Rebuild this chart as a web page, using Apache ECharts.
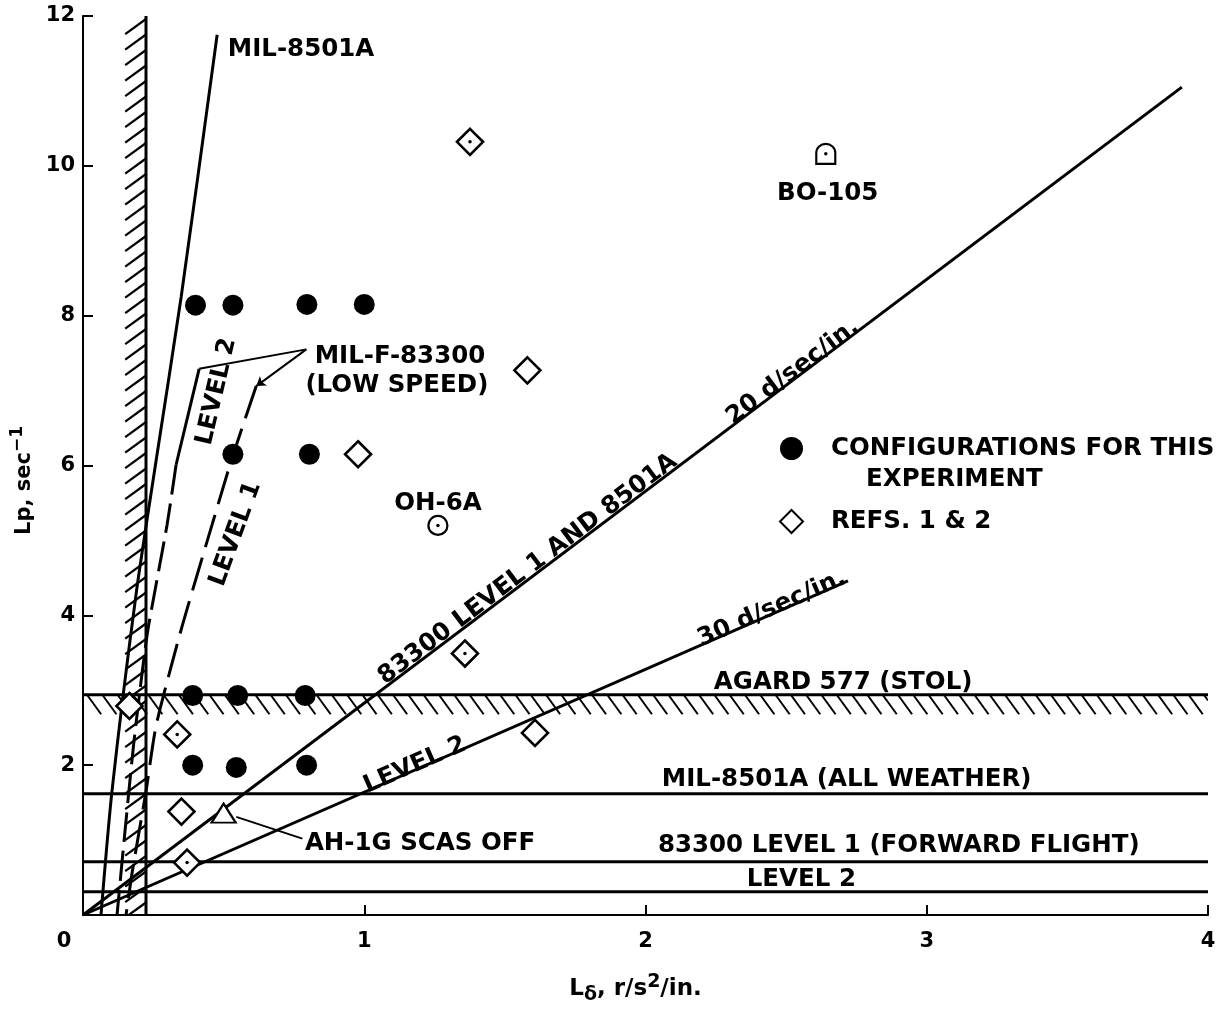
<!DOCTYPE html>
<html><head><meta charset="utf-8">
<script src="https://cdn.jsdelivr.net/npm/echarts@6/dist/echarts.min.js"></script>
<style>html,body{margin:0;padding:0;background:#fff}#c{width:1231px;height:1010px}</style>
</head><body><div id="c"></div>
<script>
// ---------- data ----------
const xTicks = [0, 1, 2, 3, 4];
const yTicks = [0, 2, 4, 6, 8, 10, 12];

const thisExperiment = [[0.40,8.14],[0.533,8.14],[0.796,8.15],[1.0,8.15],
  [0.533,6.15],[0.805,6.15],[0.39,2.93],[0.55,2.93],[0.79,2.93],[0.39,2.0],[0.545,1.97],[0.795,2.0]];
const refs12 = [[1.376,10.32],[1.58,7.27],[0.978,6.15],[1.358,3.49],[1.607,2.43],
  [0.335,2.41],[0.35,1.38],[0.37,0.70],[0.165,2.79]];
const refsWithDot = [[1.376,10.32],[1.358,3.49],[0.335,2.41],[0.37,0.70]];
const oh6a = [[1.262,5.20]];
const bo105 = [[2.641,10.16]];
const ah1g = [[0.50,1.36]];

const agardLp = 2.94, agardHatchLp = 2.68;
const allWeatherLp = 1.62, fwdLevel1Lp = 0.71, fwdLevel2Lp = 0.31;
const vertLimitLd = 0.224, vertHatchLd = 0.15;

const diag20 = [[0,0],[3.907,11.05]];
const diag30 = [[0,0],[2.72,4.46]];
const mil8501A = [[0.064,0],[0.103,1.65],[0.189,4.29],[0.263,6.14],[0.349,8.25],[0.477,11.75]];
const lowSpeedLevel2 = [[0.413,7.29],[0.331,6.01],[0.299,5.21],[0.228,3.74],[0.181,2.31],[0.146,0.99],[0.121,0]];
const lowSpeedLevel1 = [[0.616,7.06],[0.530,6.10],[0.459,5.21],[0.352,3.85],[0.260,2.53],[0.224,1.65],[0.174,0.55],[0.153,0]];

const calloutLabel = [0.794,7.55];
const ah1gLeader = [[0.545,1.31],[0.78,1.02]];

// ---------- annotations (data-space anchors) ----------
const annotations = [
  {t:'MIL-8501A', x:0.515, y:11.62, align:'left'},
  {t:'MIL-F-83300', x:1.127, y:7.52},
  {t:'(LOW SPEED)', x:1.116, y:7.13},
  {t:'LEVEL 2', x:0.458, y:7.0, rot:77},
  {t:'LEVEL 1', x:0.526, y:5.11, rot:70},
  {t:'OH-6A', x:1.262, y:5.56},
  {t:'BO-105', x:2.648, y:9.69},
  {t:'20 d/sec/in.', x:2.513, y:7.30, along:diag20},
  {t:'83300 LEVEL 1 AND 8501A', x:1.571, y:4.67, along:diag20},
  {t:'30 d/sec/in.', x:2.442, y:4.15, along:diag30},
  {t:'LEVEL 2', x:1.173, y:2.06, along:diag30},
  {t:'AGARD 577 (STOL)', x:2.243, y:3.17, align:'left'},
  {t:'MIL-8501A (ALL WEATHER)', x:2.058, y:1.875, align:'left'},
  {t:'83300 LEVEL 1 (FORWARD FLIGHT)', x:2.044, y:0.99, align:'left'},
  {t:'LEVEL 2', x:2.36, y:0.54, align:'left'},
  {t:'AH-1G SCAS OFF', x:0.789, y:1.02, align:'left'}
];

const FONT = '"DejaVu Sans", Verdana, sans-serif';
const FS = 24.5;
const S1 = 'CONFIGURATIONS FOR THIS EXPERIMENT';
const S2 = 'REFS. 1 & 2';

function lineSeries(data, extra) {
  return Object.assign({
    type: 'line', data: data, showSymbol: false, symbol: 'none', silent: true,
    lineStyle: {color: '#000', width: 3}, z: 3, animation: false
  }, extra || {});
}

const chart = echarts.init(document.getElementById('c'), null, {renderer: 'canvas'});

const option = {
  backgroundColor: '#fff',
  animation: false,
  grid: {left: 83, right: 23, top: 16, bottom: 85, containLabel: false},
  xAxis: {
    type: 'value', min: xTicks[0], max: xTicks[xTicks.length-1], interval: 1,
    splitLine: {show: false},
    axisLine: {lineStyle: {color: '#000', width: 2}},
    axisTick: {inside: true, length: 10, lineStyle: {color: '#000', width: 2}},
    axisLabel: {
      margin: 16, color: '#000', fontFamily: FONT, fontWeight: 'bold', fontSize: 21,
      formatter: v => v === 0 ? '{z|0}' : String(v),
      rich: {z: {fontFamily: FONT, fontWeight: 'bold', fontSize: 21, color: '#000', padding: [0, 38, 0, 0]}}
    },
    name: '{a|L}{s|δ}{a|, r/s}{p|2}{a|/in.}',
    nameLocation: 'middle', nameGap: 58,
    nameTextStyle: {
      padding: [0, 20, 0, 0],
      rich: {
        a: {fontFamily: FONT, fontWeight: 'bold', fontSize: 23, color: '#000'},
        s: {fontFamily: FONT, fontWeight: 'bold', fontSize: 19, color: '#000', padding: [12, 0, 0, 0]},
        p: {fontFamily: FONT, fontWeight: 'bold', fontSize: 19, color: '#000', padding: [0, 0, 14, 0]}
      }
    }
  },
  yAxis: {
    type: 'value', min: yTicks[0], max: yTicks[yTicks.length-1], interval: 2,
    splitLine: {show: false},
    axisLine: {lineStyle: {color: '#000', width: 2}},
    axisTick: {inside: true, length: 10, lineStyle: {color: '#000', width: 2}},
    axisLabel: {
      margin: 8, color: '#000', fontFamily: FONT, fontWeight: 'bold', fontSize: 21,
      formatter: v => v === 0 ? '' : String(v)
    },
    name: '{a|Lp, sec}{p|−1}',
    nameLocation: 'middle', nameGap: 22, nameRotate: 90,
    nameTextStyle: {
      padding: [0, 30, 0, 0],
      rich: {
        a: {fontFamily: FONT, fontWeight: 'bold', fontSize: 21, color: '#000'},
        p: {fontFamily: FONT, fontWeight: 'bold', fontSize: 17, color: '#000', padding: [0, 0, 14, 0]}
      }
    }
  },
  legend: {
    orient: 'vertical', left: 779, top: 405, padding: 0, itemGap: 17,
    itemWidth: 23, itemHeight: 23, selectedMode: false,
    data: [S1, S2],
    formatter: name => name === S1
      ? '{t| }\n{t|CONFIGURATIONS FOR THIS}\n{i|EXPERIMENT}'
      : '{t|REFS. 1 & 2}',
    textStyle: {
      rich: {
        t: {fontFamily: FONT, fontWeight: 'bold', fontSize: FS, color: '#000', lineHeight: 31, padding: [0, 0, 0, 23]},
        i: {fontFamily: FONT, fontWeight: 'bold', fontSize: FS, color: '#000', lineHeight: 31, padding: [0, 0, 0, 58]}
      }
    }
  },
  series: [
    // vertical hatched limit
    {
      type: 'custom', silent: true, z: 2, clip: true,
      data: [[vertHatchLd, vertLimitLd, yTicks[0], yTicks[yTicks.length-1]]],
      renderItem: (params, api) => {
        const xl = api.coord([api.value(0), 0])[0], xr = api.coord([api.value(1), 0])[0];
        const yb = api.coord([0, api.value(2)])[1], yt = api.coord([0, api.value(3)])[1];
        const tg = Math.tan(36 * Math.PI / 180);
        const drop = (xr - xl) * tg;
        const ch = [];
        for (let y = yt + 3; y < yb; y += 15.5) {
          let x2 = xl, y2 = y + drop;
          if (y2 > yb) { y2 = yb; x2 = xr - (yb - y) / tg; }
          ch.push({type: 'line', shape: {x1: xr, y1: y, x2: x2, y2: y2}, style: {stroke: '#000', lineWidth: 2.2}});
        }
        return {type: 'group', children: ch};
      }
    },
    // horizontal hatched AGARD band
    {
      type: 'custom', silent: true, z: 2, clip: true,
      data: [[xTicks[0], xTicks[xTicks.length-1], agardHatchLp, agardLp]],
      renderItem: (params, api) => {
        const xl = api.coord([api.value(0), 0])[0], xr = api.coord([api.value(1), 0])[0];
        const yb = api.coord([0, api.value(2)])[1], yt = api.coord([0, api.value(3)])[1];
        const tg = Math.tan(54 * Math.PI / 180);
        const run = (yb - yt) / tg;
        const ch = [];
        for (let x = xl + 4; x < xr; x += 15.3) {
          let x2 = x + run, y2 = yb;
          if (x2 > xr) { x2 = xr; y2 = yt + (xr - x) * tg; }
          ch.push({type: 'line', shape: {x1: x, y1: yt, x2: x2, y2: y2}, style: {stroke: '#000', lineWidth: 2}});
        }
        return {type: 'group', children: ch};
      }
    },
    lineSeries([[vertLimitLd, yTicks[0]], [vertLimitLd, yTicks[yTicks.length-1]]]),
    lineSeries([[xTicks[0], agardLp], [xTicks[xTicks.length-1], agardLp]]),
    lineSeries([[xTicks[0], allWeatherLp], [xTicks[xTicks.length-1], allWeatherLp]]),
    lineSeries([[xTicks[0], fwdLevel1Lp], [xTicks[xTicks.length-1], fwdLevel1Lp]]),
    lineSeries([[xTicks[0], fwdLevel2Lp], [xTicks[xTicks.length-1], fwdLevel2Lp]]),
    lineSeries(diag20),
    lineSeries(diag30),
    lineSeries(mil8501A, {smooth: 0.25}),
    lineSeries(lowSpeedLevel2.slice(0, 2)),
    lineSeries(lowSpeedLevel2.slice(1), {smooth: 0.2, lineStyle: {color: '#000', width: 3, type: [30, 9]}}),
    lineSeries(lowSpeedLevel1, {smooth: 0.2, lineStyle: {color: '#000', width: 3, type: [34, 11]}}),
    lineSeries([calloutLabel, lowSpeedLevel2[0]], {lineStyle: {color: '#000', width: 2}}),
    lineSeries(ah1gLeader, {lineStyle: {color: '#000', width: 2}}),
    {
      type: 'lines', coordinateSystem: 'cartesian2d', silent: true, z: 3,
      symbol: ['none', 'arrow'], symbolSize: 9,
      lineStyle: {color: '#000', width: 2, opacity: 1},
      data: [{coords: [calloutLabel, lowSpeedLevel1[0]]}]
    },
    {
      name: S1, type: 'scatter', data: thisExperiment, symbol: 'circle', symbolSize: 21,
      itemStyle: {color: '#000', opacity: 1}, z: 5, silent: true
    },
    {
      name: S2, type: 'scatter', data: refs12, symbol: 'diamond', symbolSize: 26,
      itemStyle: {color: '#fff', borderColor: '#000', borderWidth: 2.6, opacity: 1}, z: 5, silent: true
    },
    {
      type: 'scatter', data: oh6a, symbol: 'circle', symbolSize: 19,
      itemStyle: {color: '#fff', borderColor: '#000', borderWidth: 2.2, opacity: 1}, z: 5, silent: true
    },
    {
      type: 'scatter', data: bo105, symbol: 'path://M0,20 L0,9 A9,9 0 0 1 18,9 L18,20 Z', symbolSize: [19, 20],
      itemStyle: {color: '#fff', borderColor: '#000', borderWidth: 2.2, opacity: 1}, z: 5, silent: true
    },
    {
      type: 'scatter', data: ah1g, symbol: 'triangle', symbolSize: [24, 19],
      itemStyle: {color: '#fff', borderColor: '#000', borderWidth: 2.2, opacity: 1}, z: 5, silent: true
    },
    {
      type: 'scatter', data: refsWithDot.concat(oh6a, bo105), symbol: 'circle', symbolSize: 3.5,
      itemStyle: {color: '#000', opacity: 1}, z: 6, silent: true
    },
    // text annotations
    {
      type: 'custom', silent: true, z: 7, clip: false,
      data: annotations.map((a, i) => [a.x, a.y, i]),
      encode: {x: 0, y: 1},
      renderItem: (params, api) => {
        const a = annotations[api.value(2)];
        const p = api.coord([api.value(0), api.value(1)]);
        let rot = 0;
        if (a.along) {
          const p1 = api.coord(a.along[0]), p2 = api.coord(a.along[a.along.length - 1]);
          rot = Math.atan2(-(p2[1] - p1[1]), p2[0] - p1[0]);
        } else if (a.rot) {
          rot = a.rot * Math.PI / 180;
        }
        return {
          type: 'text', x: p[0], y: p[1], rotation: rot,
          style: {
            x: 0, y: 5,
            text: a.t, fill: '#000', fontFamily: FONT, fontWeight: 'bold', fontSize: FS,
            align: a.align || 'center', verticalAlign: 'middle'
          }
        };
      }
    }
  ]
};
chart.setOption(option);
</script>
</body></html>
